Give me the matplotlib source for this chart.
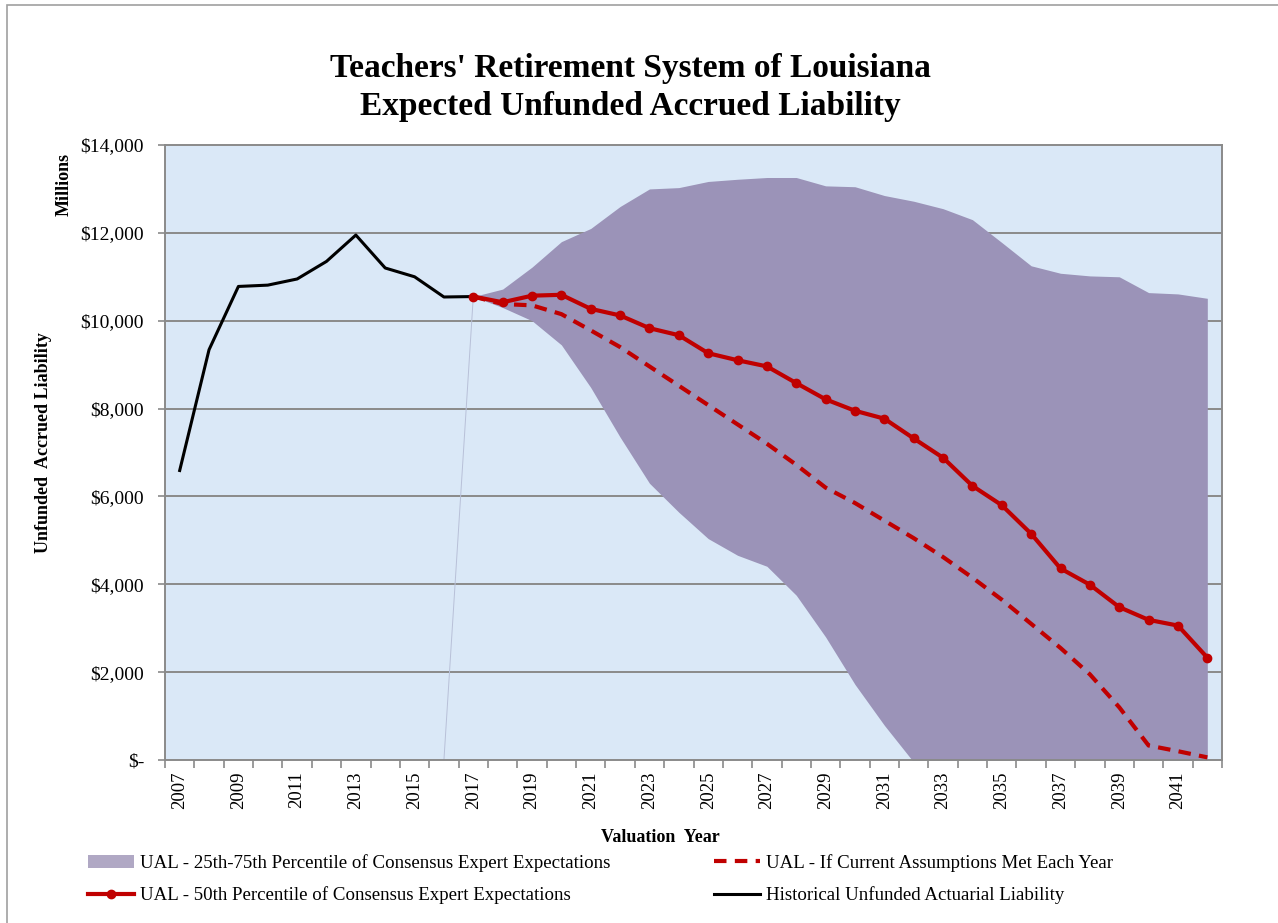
import numpy as np
import matplotlib
matplotlib.use("Agg")
import matplotlib.pyplot as plt
from matplotlib.patches import Rectangle, Patch
from matplotlib.lines import Line2D

plt.rcParams['font.family'] = ['Liberation Serif', 'DejaVu Serif']

# years on the category axis
years = list(range(2007, 2043))

# historical UAL, 2007-2017 ($ millions)
hist_years = list(range(2007, 2018))
hist_ual = [6590, 9340, 10780, 10810, 10950, 11350, 11950, 11200, 11000, 10540, 10550]

# projections, 2017-2042
proj_years = list(range(2017, 2043))
p50 = [10550, 10420, 10570, 10590, 10270, 10120, 9830, 9670, 9260, 9100, 8960, 8580,
       8210, 7950, 7770, 7320, 6880, 6240, 5800, 5150, 4360, 3990, 3480, 3190, 3060, 2330]
current_assump = [10550, 10380, 10350, 10150, 9780, 9400, 8960, 8520, 8080, 7640, 7200, 6720,
                  6200, 5850, 5450, 5050, 4620, 4150, 3650, 3100, 2550, 1950, 1200, 330, 200, 60]
p75 = [10550, 10720, 11220, 11800, 12100, 12600, 13000, 13030, 13170, 13220, 13260, 13260,
       13070, 13050, 12850, 12720, 12550, 12300, 11780, 11250, 11080, 11020, 11000, 10640, 10610, 10510]
p25 = [10550, 10300, 10000, 9450, 8480, 7350, 6300, 5640, 5040, 4660, 4410, 3750,
       2800, 1720, 790, -50, -900, -1700, -2500, -3200, -3900, -4500, -5100, -5600, -6000, -6400]

ytick_vals = [0, 2000, 4000, 6000, 8000, 10000, 12000, 14000]
ytick_labels = ['$-', '$2,000', '$4,000', '$6,000', '$8,000', '$10,000', '$12,000', '$14,000']

band_color = '#9b93b8'
red = '#c00000'

fig = plt.figure(figsize=(12.78, 9.23), dpi=100)
fig.patch.set_facecolor('white')
# outer chart border (left and top visible)
fig.patches.append(Rectangle((7 / 1278, -0.05), 1.1, (923 - 5) / 923 + 0.05,
                             transform=fig.transFigure, fill=False,
                             edgecolor='#a0a0a0', linewidth=1.2))

ax = fig.add_axes([165 / 1278, 163 / 923, 1057 / 1278, 615 / 923])
ax.set_facecolor('#dae8f7')

idx = {y: i for i, y in enumerate(years)}
hx = [idx[y] for y in hist_years]
px = [idx[y] for y in proj_years]

for v in ytick_vals[1:-1]:
    ax.axhline(v, color='#8a8a8a', linewidth=1.4, zorder=1)

ax.fill_between(px, p25, p75, color=band_color, linewidth=0, zorder=2)
# faint edge left over from the stacked area
ax.plot([idx[2016], idx[2017]], [0, p25[0]], color='#b8c0d8', linewidth=0.7, zorder=2)

ax.plot(hx, hist_ual, color='black', linewidth=2.2, zorder=3)
ax.plot(px, current_assump, color=red, linewidth=3, linestyle=(0, (3, 2)), zorder=4)
ax.plot(px, p50, color=red, linewidth=3, marker='o', markersize=6, zorder=5)

ax.set_xlim(-0.5, len(years) - 0.5)
ax.set_ylim(0, 14000)
ax.set_yticks(ytick_vals)
ax.set_yticklabels(ytick_labels, fontsize=14)
ax.set_xticks([idx[y] for y in years[::2]])
ax.set_xticklabels([str(y) for y in years[::2]], rotation=90, fontsize=13.5)
ax.set_xticks(np.arange(-0.5, len(years), 1), minor=True)
ax.tick_params(axis='x', which='major', length=0, pad=8)
ax.tick_params(axis='x', which='minor', length=6, color='#8a8a8a', width=1.2)
ax.tick_params(axis='y', length=5, color='#8a8a8a', width=1.2, pad=10)
for s in ax.spines.values():
    s.set_color('#8a8a8a')
    s.set_linewidth(1.4)

fig.text(630 / 1278, 1 - 69 / 923, "Teachers' Retirement System of Louisiana",
         ha='center', va='center', fontsize=24, fontweight='bold')
fig.text(630 / 1278, 1 - 107 / 923, "Expected Unfunded Accrued Liability",
         ha='center', va='center', fontsize=24, fontweight='bold')
fig.text(64 / 1278, 1 - 184 / 923, 'Millions', rotation=90, ha='center', va='center',
         fontsize=13, fontweight='bold')
fig.text(44 / 1278, 1 - 443 / 923, 'Unfunded  Accrued Liability', rotation=90,
         ha='center', va='center', fontsize=13, fontweight='bold')
fig.text(660 / 1278, 1 - 837 / 923, 'Valuation  Year', ha='center', va='center',
         fontsize=13, fontweight='bold')

handles = [Patch(facecolor='#b0a8c4', edgecolor='none'),
           Line2D([], [], color=red, linewidth=3, marker='o', markersize=6),
           Line2D([], [], color=red, linewidth=3, linestyle=(0, (3, 2))),
           Line2D([], [], color='black', linewidth=2.2)]
labels = ['UAL - 25th-75th Percentile of Consensus Expert Expectations',
          'UAL - 50th Percentile of Consensus Expert Expectations',
          'UAL - If Current Assumptions Met Each Year',
          'Historical Unfunded Actuarial Liability']
fig.legend(handles, labels, ncol=2, loc='upper left', bbox_to_anchor=(88 / 1278, 1 - 854 / 923),
           frameon=False, fontsize=13.6, handlelength=2.45, columnspacing=5.5,
           labelspacing=0.78, handletextpad=0.3, borderpad=0, borderaxespad=0)

fig.savefig('out.png', dpi=100)
